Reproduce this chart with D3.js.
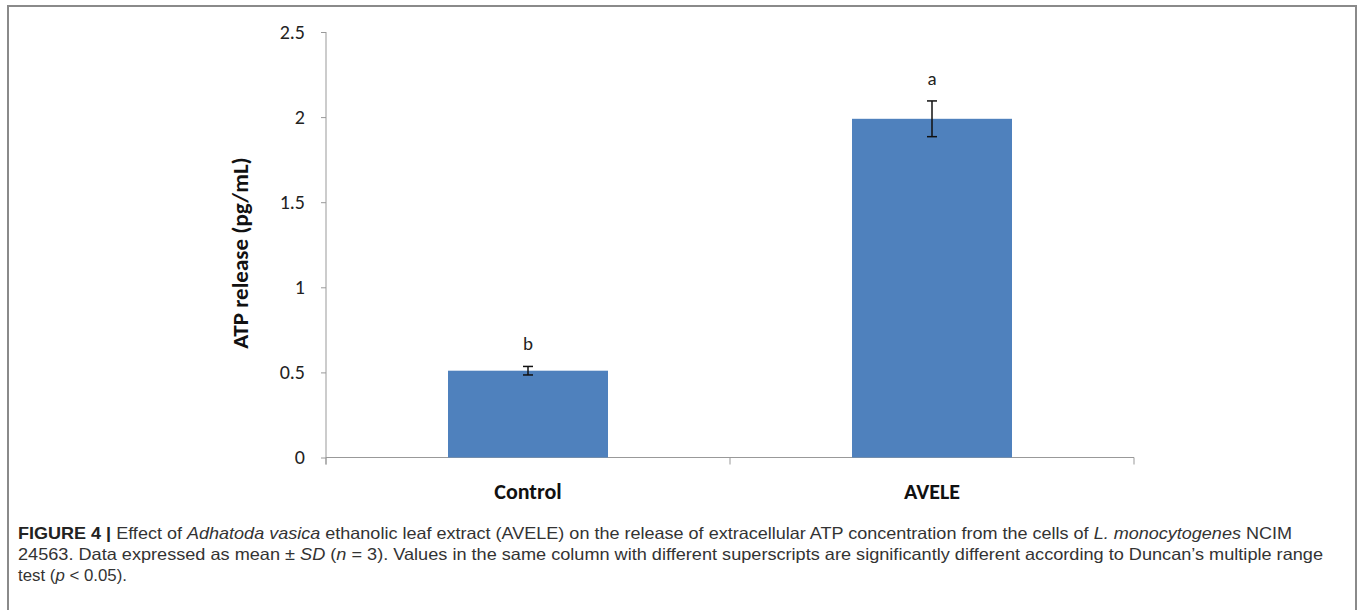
<!DOCTYPE html>
<html>
<head>
<meta charset="utf-8">
<script src="https://cdn.jsdelivr.net/npm/d3@7"></script>
<style>
  body { margin: 0; background: #fff; }
  svg { display: block; }
</style>
</head>
<body>
<svg width="1360" height="610"></svg>
<script>
// chart data
const categories = ["Control", "AVELE"];
const means = [0.51, 1.99];
const sds = [0.025, 0.105];
const letters = ["b", "a"];
const yTicks = [0, 0.5, 1, 1.5, 2, 2.5];
const yTickLabels = ["0", "0.5", "1", "1.5", "2", "2.5"];

const svg = d3.select("svg");
const chartFont = "Carlito, Lato, 'Open Sans', sans-serif";

// outer frame (open at the bottom, cropped)
svg.append("rect")
  .attr("x", 8).attr("y", 6)
  .attr("width", 1348).attr("height", 640)
  .attr("fill", "none")
  .attr("stroke", "#8a8a8a")
  .attr("stroke-width", 2);

const plotLeft = 326, plotRight = 1134, plotTop = 32, plotBottom = 457.5;

const x = d3.scaleBand().domain(categories).range([plotLeft, plotRight]).paddingInner(0.604).paddingOuter(0.302);
const y = d3.scaleLinear().domain([0, 2.5]).range([plotBottom, plotTop]);

// y axis
const yAxis = svg.append("g")
  .attr("transform", `translate(${plotLeft},0)`)
  .call(d3.axisLeft(y).tickValues(yTicks).tickFormat((d, i) => yTickLabels[i]).tickSize(5).tickPadding(16).tickSizeOuter(0));
yAxis.select(".domain").attr("stroke", "#999").attr("d", `M0,${plotTop}V${plotBottom + 7}`);
yAxis.selectAll(".tick line").attr("stroke", "#999");
yAxis.selectAll(".tick text")
  .attr("font-family", chartFont)
  .attr("font-size", 20)
  .attr("fill", "#222");

// x axis: ticks at band boundaries
const bounds = [plotLeft, (plotLeft + plotRight) / 2, plotRight];
svg.append("line")
  .attr("x1", plotLeft).attr("x2", plotRight)
  .attr("y1", plotBottom).attr("y2", plotBottom)
  .attr("stroke", "#999");
svg.append("g").selectAll("line").data(bounds).join("line")
  .attr("x1", d => d).attr("x2", d => d)
  .attr("y1", plotBottom).attr("y2", plotBottom + 7)
  .attr("stroke", "#999");

svg.append("g").selectAll("text").data(categories).join("text")
  .attr("x", d => x(d) + x.bandwidth() / 2)
  .attr("y", 499)
  .attr("text-anchor", "middle")
  .attr("font-family", chartFont)
  .attr("font-weight", "bold")
  .attr("font-size", 22)
  .attr("fill", "#111")
  .text(d => d);

// bars
svg.append("g").selectAll("rect").data(categories).join("rect")
  .attr("x", d => x(d))
  .attr("width", x.bandwidth())
  .attr("y", (d, i) => y(means[i]))
  .attr("height", (d, i) => y(0) - y(means[i]))
  .attr("fill", "#4f81bd");

// error bars
const eb = svg.append("g").attr("stroke", "#111").attr("stroke-width", 1.5);
categories.forEach((c, i) => {
  const cx = x(c) + x.bandwidth() / 2;
  const y1 = y(means[i] + sds[i]), y2 = y(means[i] - sds[i]);
  eb.append("line").attr("x1", cx).attr("x2", cx).attr("y1", y1).attr("y2", y2);
  eb.append("line").attr("x1", cx - 5).attr("x2", cx + 5).attr("y1", y1).attr("y2", y1);
  eb.append("line").attr("x1", cx - 5).attr("x2", cx + 5).attr("y1", y2).attr("y2", y2);
});

// significance letters
svg.append("g").selectAll("text").data(categories).join("text")
  .attr("x", d => x(d) + x.bandwidth() / 2)
  .attr("y", (d, i) => y(means[i] + sds[i]) - 16)
  .attr("text-anchor", "middle")
  .attr("font-family", chartFont)
  .attr("font-size", 19)
  .attr("fill", "#222")
  .text((d, i) => letters[i]);

// y axis title
svg.append("text")
  .attr("transform", "translate(248,253) rotate(-90)")
  .attr("text-anchor", "middle")
  .attr("font-family", chartFont)
  .attr("font-weight", "bold")
  .attr("font-size", 23)
  .attr("fill", "#111")
  .text("ATP release (pg/mL)");

// caption
const captionLines = [
  { width: 1274, parts: [
    { t: "FIGURE 4 | ", b: true },
    { t: "Effect of " },
    { t: "Adhatoda vasica", i: true },
    { t: " ethanolic leaf extract (AVELE) on the release of extracellular ATP concentration from the cells of " },
    { t: "L. monocytogenes", i: true },
    { t: " NCIM" }
  ]},
  { width: 1305, parts: [
    { t: "24563. Data expressed as mean \u00b1 " },
    { t: "SD", i: true },
    { t: " (" },
    { t: "n", i: true },
    { t: " = 3). Values in the same column with different superscripts are significantly different according to Duncan\u2019s multiple range" }
  ]},
  { width: 109, parts: [
    { t: "test (" },
    { t: "p", i: true },
    { t: " < 0.05)." }
  ]}
];
const cap = svg.append("g")
  .attr("font-family", "'Liberation Sans', Arial, sans-serif")
  .attr("font-size", 16.5)
  .attr("fill", "#333");
captionLines.forEach((ln, k) => {
  const t = cap.append("text")
    .attr("x", 18)
    .attr("y", 539 + k * 21)
    .attr("textLength", ln.width)
    .attr("lengthAdjust", "spacingAndGlyphs");
  ln.parts.forEach(p => {
    t.append("tspan")
      .attr("font-weight", p.b ? "bold" : null)
      .attr("font-style", p.i ? "italic" : null)
      .attr("fill", p.b ? "#222" : null)
      .text(p.t);
  });
});
</script>
</body>
</html>
